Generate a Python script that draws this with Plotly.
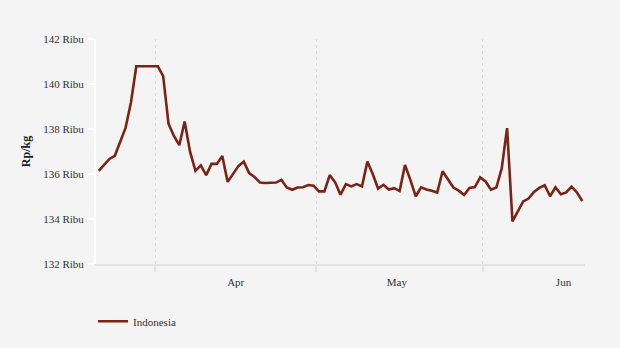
import plotly.graph_objects as go
import pandas as pd

# --- data ---
start_date = "2024-03-21 12:00"
n_days = 91
prices = [
    136.14, 136.42, 136.67, 136.81, 137.39, 138.05, 139.18, 140.79, 140.79, 140.79,
    140.79, 140.79, 140.35, 138.23, 137.69, 137.28, 138.33, 136.99, 136.14, 136.38,
    135.95, 136.45, 136.45, 136.80, 135.65, 136.00, 136.35, 136.55, 136.04, 135.87,
    135.62, 135.60, 135.60, 135.62, 135.74, 135.40, 135.30, 135.40, 135.41, 135.51,
    135.48, 135.23, 135.23, 135.95, 135.63, 135.08, 135.55, 135.45, 135.55, 135.45,
    136.56, 136.00, 135.35, 135.52, 135.31, 135.37, 135.24, 136.40, 135.74, 135.01,
    135.41, 135.31, 135.26, 135.18, 136.12, 135.74, 135.40, 135.26, 135.07, 135.38,
    135.42, 135.85, 135.67, 135.30, 135.40, 136.25, 138.04, 133.89, 134.33, 134.78,
    134.91, 135.20, 135.38, 135.50, 135.01, 135.41, 135.10, 135.18, 135.44, 135.18,
    134.80,
]
series_name = "Indonesia"
y_ticks = [132, 134, 136, 138, 140, 142]
y_ticktext = [f"{v} Ribu" for v in y_ticks]
month_labels = ["Apr", "May", "Jun"]
month_label_dates = ["2024-04-16", "2024-05-16", "2024-06-16"]
month_starts = ["2024-04-01", "2024-05-01", "2024-06-01"]
x_range = ["2024-03-21", "2024-06-20"]

dates = pd.date_range(start=start_date, periods=n_days, freq="D")

FONT = "Liberation Serif"
BG = "#f4f4f4"

fig = go.Figure()
fig.add_trace(go.Scatter(
    x=dates, y=prices, mode="lines", name=series_name,
    line=dict(color="#7B2314", width=2.6),
))

fig.update_layout(
    width=620, height=348,
    margin=dict(l=96, r=35, t=39, b=81, pad=0),
    paper_bgcolor=BG, plot_bgcolor=BG,
    font=dict(family=FONT, size=11, color="#333333"),
    showlegend=True,
    legend=dict(
        orientation="h", x=-0.006, y=-0.19, xanchor="left", yanchor="top",
        font=dict(family=FONT, size=11, color="#333333"),
        bgcolor="rgba(0,0,0,0)",
    ),
    xaxis=dict(
        type="date", range=x_range,
        showline=True, linecolor="#e4e4e4", linewidth=2,
        showgrid=False, zeroline=False,
        tickmode="array", tickvals=month_label_dates, ticktext=month_labels,
        ticks="", ticklabelstandoff=7,
        tickfont=dict(family=FONT, size=11, color="#333333"),
        minor=dict(
            tickmode="array", tickvals=month_starts,
            showgrid=True, gridcolor="#dcdcdc", griddash="3px,3px", gridwidth=1,
            ticks="outside", ticklen=6, tickcolor="#e4e4e4", tickwidth=2,
        ),
    ),
    yaxis=dict(
        range=[132, 142],
        showline=True, linecolor="#ffffff", linewidth=2,
        showgrid=False, zeroline=False,
        tickmode="array", tickvals=y_ticks, ticktext=y_ticktext,
        ticks="outside", ticklen=6, tickcolor="#ffffff", tickwidth=2,
        ticklabelstandoff=2,
        tickfont=dict(family=FONT, size=11, color="#333333"),
        title=dict(text="<b>Rp/kg</b>", font=dict(family=FONT, size=12, color="#222222"), standoff=10),
    ),
)

fig.write_html("out.html")
